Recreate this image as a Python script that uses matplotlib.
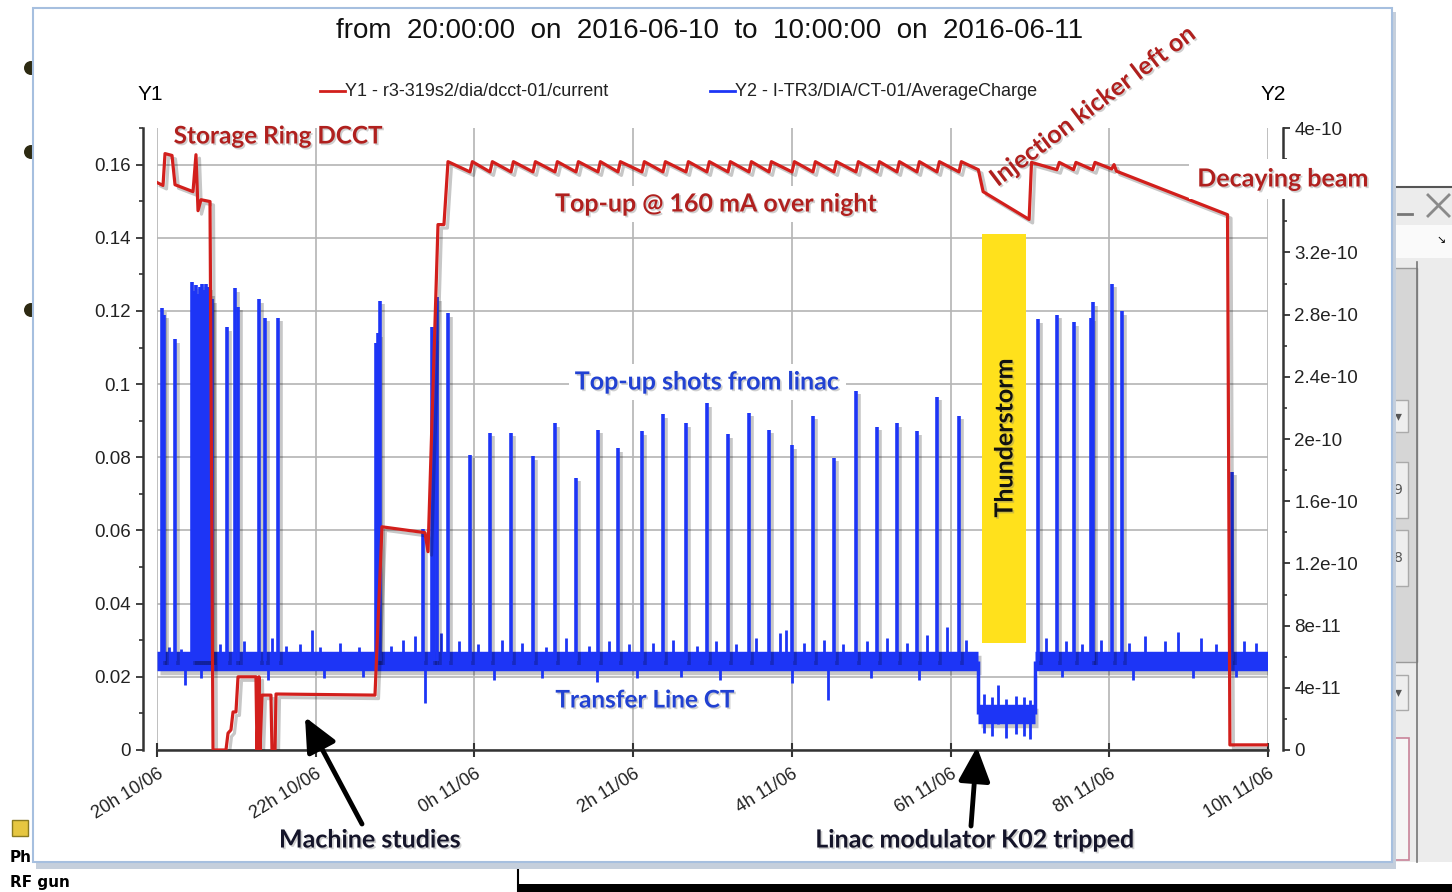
import matplotlib
matplotlib.use('Agg')
import numpy as np
import matplotlib.pyplot as plt
import matplotlib.patheffects as pe
from matplotlib.patches import Rectangle, Circle, FancyArrowPatch
from matplotlib.lines import Line2D
from matplotlib.ticker import MultipleLocator, FuncFormatter

W, H = 1452, 892

# x axis: hours after 20:00 on 2016-06-10
tick_hours = [0, 2, 4, 6, 8, 10, 12, 14]
tick_labels = ['20h 10/06', '22h 10/06', '0h 11/06', '2h 11/06',
               '4h 11/06', '6h 11/06', '8h 11/06', '10h 11/06']

# Y1: storage ring DCCT current before top-up starts
red_start_h = [0, 0.076, 0.101, 0.189, 0.227, 0.454, 0.491, 0.517, 0.554, 0.668,
               0.706, 0.869, 0.895, 0.932, 0.958, 0.995, 1.021, 1.247, 1.260, 1.285,
               1.298, 1.323, 1.436, 1.449, 1.487, 1.500, 2.747, 2.835, 3.377, 3.415,
               3.516, 3.541, 3.616, 3.667]
red_start_v = [0.1551, 0.1543, 0.1630, 0.1625, 0.1545, 0.1526, 0.1627, 0.1474, 0.1504, 0.1499,
               0.0, 0.0, 0.0046, 0.0055, 0.0104, 0.0104, 0.0200, 0.0200, 0.0, 0.0200,
               0.0, 0.0150, 0.0150, 0.0, 0.0, 0.0153, 0.0150, 0.0610, 0.0594, 0.0542,
               0.1258, 0.1436, 0.1436, 0.1608]
# top-up injections overnight (time, linac shot charge in 1e-10)
topup_h = [3.944, 4.196, 4.461, 4.738, 5.015, 5.280, 5.557, 5.809, 6.111, 6.376,
           6.666, 6.930, 7.195, 7.460, 7.712, 8.002, 8.266, 8.531, 8.808, 9.073,
           9.325, 9.577, 9.829, 10.106]
topup_q = [1.90, 2.04, 2.04, 1.89, 2.10, 1.75, 2.06, 1.94, 2.05, 2.16,
           2.10, 2.23, 2.03, 2.17, 2.06, 1.96, 2.15, 1.88, 2.31, 2.08,
           2.10, 2.05, 2.27, 2.15]
red_peak = 0.1608
red_trough = 0.1580
# Y1 after the linac trip
red_end_h = [10.35, 10.41, 10.99, 11.02, 11.34, 11.37, 11.55, 11.58, 11.79, 11.82,
             12.03, 12.06, 12.09, 13.49, 13.52, 14.0]
red_end_v = [0.1586, 0.1526, 0.1450, 0.1606, 0.1586, 0.1606, 0.1586, 0.1606, 0.1586, 0.1606,
             0.1588, 0.1600, 0.1582, 0.1463, 0.0014, 0.0014]

# Y2: transfer line CT, other shots (time, charge in 1e-10)
pulse_h = [0.063, 0.088, 0.227, 0.441, 0.466, 0.491, 0.517, 0.542, 0.567, 0.592,
           0.617, 0.643, 0.668, 0.693, 0.882, 0.983, 1.021, 1.285, 1.361, 1.525,
           2.760, 2.785, 2.810, 3.352, 3.465, 3.490, 3.528, 3.667,
           11.101, 11.341, 11.555, 11.769, 11.794, 12.034, 12.160, 13.546]
pulse_q = [2.84, 2.80, 2.64, 3.01, 2.95, 2.99, 2.93, 2.98, 3.00, 2.96,
           3.00, 2.98, 2.94, 2.90, 2.72, 2.97, 2.85, 2.90, 2.78, 2.78,
           2.62, 2.68, 2.89, 1.42, 2.72, 2.65, 2.91, 2.81,
           2.77, 2.80, 2.75, 2.78, 2.88, 3.00, 2.82, 1.79]
# Y2 noise floor: segments (start, end, level) and the small excursions around it
floor_start = [0, 10.345, 11.063]
floor_end = [10.345, 11.063, 14.0]
floor_q = [0.57, 0.23, 0.57]
noise_up_h = [0.15, 0.30, 0.80, 1.10, 1.45, 1.62, 1.80, 1.95, 2.05, 2.30, 2.55, 2.95, 3.10,
              3.25, 3.58, 3.80, 4.05, 4.35, 4.60, 4.90, 5.15, 5.45, 5.70, 5.95, 6.25, 6.50,
              6.80, 7.05, 7.30, 7.55, 7.85, 7.92, 8.15, 8.40, 8.65, 8.95, 9.20, 9.45, 9.70,
              9.95, 10.20, 11.20, 11.45, 11.65, 11.90, 12.25, 12.45, 12.70, 12.87, 13.15,
              13.35, 13.70, 13.85]
noise_up_q = [0.66, 0.65, 0.68, 0.70, 0.72, 0.67, 0.68, 0.77, 0.66, 0.69, 0.66, 0.67, 0.71,
              0.73, 0.75, 0.70, 0.68, 0.71, 0.69, 0.66, 0.72, 0.67, 0.70, 0.68, 0.69, 0.71,
              0.67, 0.70, 0.68, 0.72, 0.75, 0.77, 0.69, 0.71, 0.68, 0.70, 0.72, 0.69, 0.74,
              0.79, 0.71, 0.72, 0.70, 0.68, 0.71, 0.69, 0.73, 0.70, 0.76, 0.72, 0.68, 0.70,
              0.69]
noise_dn_h = [0.35, 0.55, 1.40, 2.10, 2.60, 3.377, 4.25, 4.85, 5.55, 6.05, 6.60, 7.10,
              8.002, 8.455, 9.00, 9.60, 11.40, 12.30, 13.05, 13.60]
noise_dn_q = [0.42, 0.46, 0.45, 0.46, 0.47, 0.30, 0.45, 0.46, 0.44, 0.46, 0.47, 0.45,
              0.43, 0.32, 0.46, 0.45, 0.47, 0.45, 0.46, 0.47]
storm_noise_h = [10.42, 10.52, 10.60, 10.70, 10.82, 10.93, 11.00]
storm_noise_q = [0.36, 0.34, 0.42, 0.33, 0.35, 0.34, 0.32]

# thunderstorm box (hours, Y1 units)
storm_h = (10.396, 10.950)
storm_v = (0.0293, 0.1411)

RED = '#d21f1c'
BLUE = '#1d35f6'
DARKRED = '#b0201e'
TXTBLUE = '#2141d2'


def fx(x):
    return x / W


def fy(y):
    return 1 - y / H


fig = plt.figure(figsize=(W / 100, H / 100), dpi=100)
fig.patch.set_facecolor('white')

# ---- surrounding screenshot bits ----
for by in [68, 152, 310]:
    fig.add_artist(Circle((31, H - by), 7, transform=None, fc='#2d2a12', ec='none', zorder=-3))
fig.add_artist(Rectangle((fx(1392), fy(862)), fx(60), (862 - 186) / H, transform=fig.transFigure,
                         fc='#ececec', ec='none', zorder=-3))
fig.add_artist(Rectangle((fx(1392), fy(258)), fx(60), (258 - 225) / H, transform=fig.transFigure,
                         fc='#fafafa', ec='none', zorder=-3))
fig.add_artist(Line2D([fx(1392), fx(1452)], [fy(187), fy(187)], color='#555555', lw=1.5, zorder=-2))
fig.add_artist(Line2D([fx(1398), fx(1412)], [fy(214), fy(214)], color='#777777', lw=2, zorder=-2))
fig.add_artist(Line2D([fx(1428), fx(1449)], [fy(195), fy(216)], color='#8a8a8a', lw=2, zorder=-2))
fig.add_artist(Line2D([fx(1428), fx(1449)], [fy(216), fy(195)], color='#8a8a8a', lw=2, zorder=-2))
fig.text(fx(1441), fy(240), '\u2198', fontsize=8, ha='center', va='center', zorder=-2)
fig.add_artist(Rectangle((fx(1392), fy(662)), fx(25), (662 - 268) / H, transform=fig.transFigure,
                         fc='#d6d6d6', ec='#9a9a9a', lw=1, zorder=-2))
for y0, y1, s in [(400, 432, '\u25be'), (675, 710, '\u25be'), (462, 518, '9'), (530, 586, '8')]:
    fig.add_artist(Rectangle((fx(1392), fy(y1)), fx(16), (y1 - y0) / H, transform=fig.transFigure,
                             fc='#eeeeee', ec='#aaaaaa', lw=1, zorder=-1.5))
    fig.text(fx(1398), fy((y0 + y1) / 2), s, fontsize=10, color='#555555',
             ha='center', va='center', zorder=-1.4)
fig.add_artist(Rectangle((fx(1392), fy(860)), fx(17), (860 - 738) / H, transform=fig.transFigure,
                         fc='#f6f6f6', ec='#c9849a', lw=1.2, zorder=-1.5))
fig.add_artist(Line2D([fx(1417), fx(1417)], [fy(262), fy(862)], color='#777777', lw=1.2, zorder=-1.5))
fig.add_artist(Rectangle((fx(518), 0), 1 - fx(518), 8 / H, transform=fig.transFigure,
                         fc='black', ec='none', zorder=-1))
fig.add_artist(Line2D([fx(518), fx(518)], [fy(866), 0], color='black', lw=1.5, zorder=-1))
fig.add_artist(Rectangle((fx(12), fy(836)), fx(16), 16 / H, transform=fig.transFigure,
                         fc='#e6c640', ec='#8a7a20', lw=1, zorder=-1))
fig.text(fx(10), fy(858), 'Ph', fontsize=11, weight='bold', va='center', zorder=-1)
fig.text(fx(10), fy(882), 'RF gun', fontsize=11, weight='bold', va='center', zorder=-1)

# chart window
fig.add_artist(Rectangle((fx(36), fy(869)), fx(1360), (869 - 12) / H, transform=fig.transFigure,
                         fc='#c5cfdc', ec='none', zorder=-0.9))
fig.add_artist(Rectangle((fx(33), fy(862)), fx(1359), (862 - 8) / H, transform=fig.transFigure,
                         fc='white', ec='#a6bfdf', lw=1.5, zorder=-0.8))

# ---- the chart ----
ax = fig.add_axes([fx(157), fy(750), fx(1268 - 157), (750 - 128) / H])
ax2 = ax.twinx()
ax.patch.set_visible(False)

ax.set_xlim(0, 14)
ax.set_ylim(0, 0.17)
ax2.set_ylim(0, 4e-10)

ax.set_xticks(tick_hours)
ax.set_xticklabels(tick_labels, rotation=32, ha='right', rotation_mode='anchor',
                   fontsize=13, family='Liberation Sans', color='#222222')
ax.yaxis.set_major_locator(MultipleLocator(0.02))
ax.yaxis.set_minor_locator(MultipleLocator(0.01))
ax.yaxis.set_major_formatter(FuncFormatter(lambda v, p: '%g' % round(v, 4)))
ax2.yaxis.set_major_locator(MultipleLocator(4e-11))
ax2.yaxis.set_minor_locator(MultipleLocator(2e-11))


def y2_label(v, p):
    s = '%g' % float('%.3g' % v)
    # the 3.6e-10 label sits under the "Decaying beam" note
    return '' if s == '3.6e-10' else s


ax2.yaxis.set_major_formatter(FuncFormatter(y2_label))

ax.grid(True, color='#b4b4b4', lw=1.2)
ax.set_axisbelow(True)

for s in ['top', 'right']:
    ax.spines[s].set_visible(False)
for s in ['top', 'left', 'bottom']:
    ax2.spines[s].set_visible(False)
ax.spines['left'].set_position(('outward', 10))
ax2.spines['right'].set_position(('outward', 11))
for sp in [ax.spines['left'], ax.spines['bottom'], ax2.spines['right']]:
    sp.set_color('#333333')
    sp.set_linewidth(1.8)

ax.tick_params(axis='x', direction='inout', length=10, width=1.5, pad=6, color='#333333')
ax.tick_params(axis='y', which='major', direction='out', length=5, width=1.3, pad=4, color='#333333',
               labelsize=13.5, labelcolor='#222222', labelfontfamily='Liberation Sans')
ax.tick_params(axis='y', which='minor', direction='out', length=3, width=1.2, color='#333333')
ax2.tick_params(axis='y', which='major', direction='out', length=5, width=1.3, pad=3, color='#333333',
                labelsize=13.5, labelcolor='#222222', labelfontfamily='Liberation Sans')
ax2.tick_params(axis='y', which='minor', direction='out', length=3, width=1.2, color='#333333')

shadow = [pe.SimpleLineShadow(offset=(2.5, -2.5), shadow_color='black', alpha=0.22), pe.Normal()]

# blue: transfer line CT (Y2)
scale = 1e-10
ax2.hlines(np.array(floor_q) * scale, floor_start, floor_end, color=BLUE, lw=14,
           path_effects=shadow, zorder=2)
ax2.vlines(floor_end[:2], np.array(floor_q[1:]) * scale, np.array(floor_q[:2]) * scale,
           color=BLUE, lw=2.5, zorder=2)
ax2.vlines(noise_up_h, floor_q[0] * scale, np.array(noise_up_q) * scale, color=BLUE, lw=2.0, zorder=2.05)
ax2.vlines(noise_dn_h, np.array(noise_dn_q) * scale, floor_q[0] * scale, color=BLUE, lw=2.0, zorder=2.05)
ax2.vlines(storm_noise_h, np.array(storm_noise_q) * scale - 0.25 * scale, np.array(storm_noise_q) * scale,
           color=BLUE, lw=2.0, zorder=2.05)
ax2.vlines(pulse_h, floor_q[0] * scale, np.array(pulse_q) * scale, color=BLUE, lw=2.6,
           path_effects=shadow, zorder=2.1)
ax2.vlines(topup_h, floor_q[0] * scale, np.array(topup_q) * scale, color=BLUE, lw=2.6,
           path_effects=shadow, zorder=2.1)

# thunderstorm box
ax2.add_patch(Rectangle((storm_h[0], storm_v[0]), storm_h[1] - storm_h[0], storm_v[1] - storm_v[0],
                        transform=ax.transData, fc='#ffe11c', ec='none', zorder=2.2))

# red: storage ring DCCT (Y1), drawn on top of the blue
red_h = list(red_start_h)
red_v = list(red_start_v)
for t in topup_h:
    red_h += [t, t + 0.03]
    red_v += [red_trough, red_peak]
red_h += red_end_h
red_v += red_end_v
ax2.plot(red_h, red_v, color=RED, lw=2.3, transform=ax.transData, path_effects=shadow, zorder=3)
ax2.set_ylim(0, 4e-10)

# ---- texts ----
fig.text(fx(710), fy(31), 'from  20:00:00  on  2016-06-10  to  10:00:00  on  2016-06-11',
         fontsize=20, family='Liberation Sans', ha='center', va='center', color='#111111')
fig.text(fx(150), fy(95), 'Y1', fontsize=15, family='Liberation Sans', ha='center', va='center')
fig.text(fx(1273), fy(95), 'Y2', fontsize=15, family='Liberation Sans', ha='center', va='center')
fig.add_artist(Line2D([fx(320), fx(345)], [fy(91), fy(91)], color=RED, lw=2))
fig.text(fx(345), fy(91), 'Y1 - r3-319s2/dia/dcct-01/current', fontsize=13,
         family='Liberation Sans', va='center', color='#222222')
fig.add_artist(Line2D([fx(710), fx(735)], [fy(91), fy(91)], color=BLUE, lw=2))
fig.text(fx(735), fy(91), 'Y2 - I-TR3/DIA/CT-01/AverageCharge', fontsize=13,
         family='Liberation Sans', va='center', color='#222222')

tshadow = [pe.withSimplePatchShadow(offset=(1.2, -1.2), shadow_rgbFace='#777777', alpha=0.35)]
wbox = dict(boxstyle='square,pad=0.25', fc='white', ec='none')


def note(x, y, s, color, size=18, rot=0, box=None):
    fig.text(fx(x), fy(y), s, fontsize=size, family='Lato', weight='bold', color=color,
             ha='center', va='center', rotation=rot, bbox=box, path_effects=tshadow, zorder=6)


note(278, 136, 'Storage Ring DCCT', DARKRED, size=17.5)
note(716, 204, 'Top-up @ 160 mA over night', DARKRED, box=wbox)
note(1093, 106, 'Injection kicker left on', DARKRED, rot=37)
note(1283, 179, 'Decaying beam', DARKRED, box=dict(boxstyle='square,pad=0.35', fc='white', ec='none'))
note(707, 382, 'Top-up shots from linac', TXTBLUE, box=wbox)
note(645, 700, 'Transfer Line CT', TXTBLUE, size=17.5)
note(1005, 438, 'Thunderstorm', '#111111', rot=90)
note(370, 840, 'Machine studies', '#15152a')
note(975, 840, 'Linac modulator K02 tripped', '#15152a')

for tail, head in [((362, 824), (305, 717)), ((971, 826), (977, 747))]:
    fig.add_artist(FancyArrowPatch((tail[0], H - tail[1]), (head[0], H - head[1]), transform=None,
                                   arrowstyle='-|>,head_length=1.3,head_width=0.6', mutation_scale=16,
                                   lw=3.5, color='black', shrinkA=0, shrinkB=0, zorder=6))

fig.savefig('out.png', dpi=100)
